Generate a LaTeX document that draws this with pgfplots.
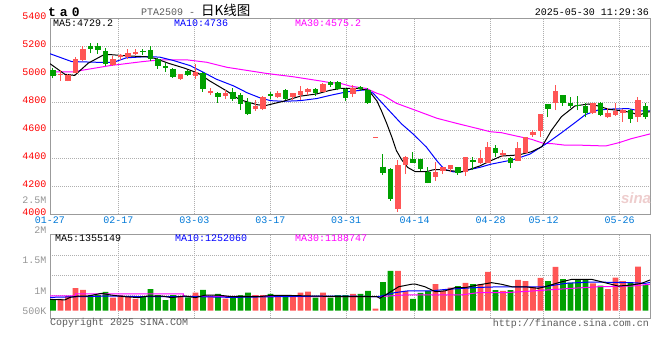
\documentclass[border=0pt]{standalone}
\usepackage{pgfplots}
\pgfplotsset{compat=1.18}
\usepackage{pgfplotstable}
\usepackage{fontspec}
\setmainfont{Liberation Mono}
\newfontfamily\cjk{Noto Sans CJK SC}
\newfontfamily\sans{Liberation Sans}
\definecolor{upred}{RGB}{255,85,85}
\definecolor{dngreen}{RGB}{0,160,0}
\definecolor{pricered}{RGB}{255,0,0}
\definecolor{dateblue}{RGB}{0,120,215}
\definecolor{lblgray}{RGB}{150,150,150}
\definecolor{framegray}{RGB}{155,155,155}
\definecolor{gridgray}{RGB}{175,175,175}
\definecolor{mamag}{RGB}{255,0,255}
\definecolor{mablue}{RGB}{0,0,255}
\definecolor{txtgray}{RGB}{90,90,90}
\definecolor{wmark}{RGB}{238,205,205}

\pgfplotstableread{
i o h l c
1 4994 5030 4955 5001
2 4955 5000 4950 4998
3 5012 5121 5006 5107
4 5100 5205 5092 5181
8 5066 5133 5059 5109
9 5121 5145 5103 5138
10 5121 5178 5110 5154
11 5145 5178 5135 5162
17 4966 5005 4960 5002
19 4990 5071 4969 5019
21 4864 4904 4852 4883
23 4847 4888 4821 4869
27 4752 4816 4740 4774
28 4750 4845 4745 4840
30 4835 4883 4828 4869
32 4835 4869 4817 4864
33 4852 4916 4816 4881
34 4876 4900 4852 4893
36 4876 4936 4871 4931
40 4860 4924 4835 4902
43 4548 4555 4548 4555
46 4040 4388 4019 4352
47 4355 4415 4290 4410
51 4269 4371 4240 4300
52 4312 4336 4288 4336
53 4321 4352 4300 4352
55 4300 4412 4276 4412
57 4364 4459 4360 4400
58 4369 4519 4365 4483
60 4424 4459 4412 4440
62 4381 4519 4378 4471
63 4440 4555 4436 4550
64 4567 4605 4555 4590
65 4597 4720 4555 4716
67 4797 4924 4745 4881
72 4726 4795 4720 4793
74 4693 4757 4690 4726
75 4709 4797 4705 4740
76 4726 4750 4662 4745
78 4697 4836 4662 4817
}\upcandles

\pgfplotstableread{
i o h l c
0 5031 5047 4971 4990
5 5205 5221 5150 5181
6 5205 5224 5147 5174
7 5166 5188 5062 5071
12 5166 5180 5138 5157
13 5174 5202 5097 5107
14 5107 5114 5038 5062
15 5062 5078 5019 5047
16 5038 5042 4976 4983
18 5026 5030 4990 4995
20 5010 5019 4876 4893
22 4869 4872 4797 4840
24 4876 4900 4812 4821
25 4852 4864 4745 4788
26 4805 4828 4709 4716
29 4857 4876 4824 4847
31 4888 4893 4816 4824
35 4895 4905 4847 4869
37 4945 4955 4912 4925
38 4945 4953 4885 4895
39 4893 4900 4807 4830
41 4909 4916 4880 4892
42 4885 4900 4788 4795
44 4340 4431 4281 4293
45 4324 4330 4097 4109
48 4395 4447 4365 4370
49 4395 4397 4312 4322
50 4300 4336 4221 4226
54 4336 4340 4283 4298
56 4388 4412 4317 4376
59 4476 4497 4412 4440
61 4400 4407 4329 4364
66 4788 4790 4693 4750
68 4852 4855 4776 4793
69 4797 4840 4757 4774
70 4781 4845 4745 4774
71 4774 4793 4693 4726
73 4797 4805 4700 4709
77 4745 4750 4655 4678
79 4774 4793 4680 4697
}\dncandles

\pgfplotstableread{
i v
1 0.52
2 0.65
3 1.00
4 0.92
8 0.58
9 0.69
10 0.65
11 0.52
17 0.65
19 0.80
21 0.65
23 0.54
27 0.69
28 0.69
30 0.69
32 0.69
33 0.80
34 0.84
36 0.80
40 0.74
43 0.09
46 1.76
47 0.88
51 1.18
52 0.88
53 1.02
55 1.23
57 1.18
58 1.72
60 0.88
62 1.36
63 1.31
64 1.06
65 1.45
67 1.94
72 1.21
74 0.96
75 1.46
76 1.31
78 1.95
}\upvol

\pgfplotstableread{
i v
0 0.50
5 0.69
6 0.69
7 0.83
12 0.62
13 0.96
14 0.69
15 0.47
16 0.69
18 0.59
20 0.92
22 0.74
24 0.62
25 0.69
26 0.80
29 0.74
31 0.68
35 0.58
37 0.58
38 0.69
39 0.69
41 0.74
42 0.88
44 1.27
45 1.76
48 0.52
49 0.79
50 0.88
54 1.09
56 1.18
59 0.91
61 0.91
66 1.31
68 1.40
69 1.24
70 1.39
71 1.38
73 1.11
77 1.24
79 1.14
}\dnvol

\pgfplotsset{
  kline/.style={
    scale only axis, anchor=south west, width=600pt,
    xmin=-0.387, xmax=79.613,
    xtick={-0.387,8.727,18.854,28.98,39.107,48.221,58.347,65.436,75.562},
    grid=major,
    grid style={gridgray, dash pattern=on 1pt off 1pt, line width=0.8pt},
    major tick length=0pt,
    axis line style={framegray, line width=1pt},
    tick label style={font=\fontsize{10}{12}\selectfont},
  }
}

\begin{document}
\begin{tikzpicture}[font=\fontsize{10}{12}\selectfont]
\useasboundingbox (0,0) rectangle (660pt,360pt);

% ---------- volume panel ----------
\begin{axis}[kline,
  at={(50pt,42pt)}, height=83.3pt,
  ymin=-0.323, ymax=3.363,
  xticklabels={,,,,,,,,},
  ytick={0.681,1.566,2.451}, yticklabels={,,},
  extra y ticks={0,0.885,2.212}, extra y tick labels={500K,1M,1.5M},
  extra y tick style={grid=none},
  yticklabel style={text=lblgray, anchor=east, inner sep=0pt, xshift=-3.5pt},
]
\addplot[ybar, bar width=5.7pt, fill=upred, draw=none] table[x=i,y=v] {\upvol};
\addplot[ybar, bar width=5.7pt, fill=dngreen, draw=none] table[x=i,y=v] {\dnvol};
\addplot[mamag, line width=1pt] coordinates {(-0.39,0.66) (3.0,0.66) (3.0,0.74) (17.4,0.74) (17.4,0.64) (43.5,0.62) (46.95,0.70) (54.5,0.70) (56.7,0.80) (60.3,0.80) (62.5,0.84) (65.6,0.91) (69.2,0.99) (72.7,1.06) (77.2,1.09) (79.61,1.17)};
\addplot[mablue, line width=1pt] coordinates {(-0.39,0.59) (3.4,0.62) (7.8,0.65) (12.3,0.62) (19.4,0.62) (23.8,0.59) (30,0.62) (36.7,0.65) (39,0.65) (43.4,0.62) (45.6,0.80) (47.4,0.88) (50.5,0.88) (52.3,0.94) (56.7,1.03) (59.8,1.06) (65.6,1.06) (68.3,1.21) (71.8,1.27) (77.2,1.24) (78.95,1.21) (79.61,1.25)};
\addplot[black, line width=1pt] coordinates {(-0.39,0.50) (1.6,0.48) (2.3,0.59) (3.4,0.65) (4.7,0.65) (6.5,0.77) (7.8,0.69) (9.6,0.62) (11.4,0.58) (12.7,0.65) (14.5,0.65) (15.8,0.58) (17.6,0.65) (19,0.58) (20.3,0.69) (22.1,0.69) (23.8,0.62) (27.4,0.62) (29.2,0.68) (31,0.68) (34.5,0.65) (38.9,0.62) (43.2,0.62) (43.6,0.55) (44.7,0.77) (46.1,1.06) (47.8,1.17) (48.3,1.18) (49.6,1.06) (51,0.84) (52.3,0.88) (53.6,1.02) (54.95,1.02) (56.7,1.14) (58.5,1.24) (59.8,1.17) (61.2,1.06) (63,1.06) (64.7,0.99) (65.6,1.06) (67.4,1.24) (69.2,1.39) (71.8,1.39) (73.6,1.24) (75.4,1.09) (77.2,1.14) (78.5,1.21) (79.61,1.36)};
\end{axis}

% ---------- price panel ----------
\begin{axis}[kline,
  at={(50pt,145.7pt)}, height=196pt,
  ymin=4000, ymax=5400,
  xticklabels={01-27,02-17,03-03,03-17,03-31,04-14,04-28,05-12,05-26},
  ytick={4000,4200,4400,4600,4800,5000,5200,5400},
  yticklabels={4000,4200,4400,4600,4800,5000,5200,5400},
  extra y ticks={4088}, extra y tick labels={2.5M},
  extra y tick style={grid=none, yticklabel style={text=lblgray}},
  xticklabel style={text=dateblue, anchor=north, inner sep=0pt, yshift=-2.5pt},
  yticklabel style={text=pricered, anchor=east, inner sep=0pt, xshift=-3.5pt, yshift=2pt},
]
\addplot[mamag, line width=1pt] coordinates {(-0.39,5018) (2.7,5018) (4.9,5038) (7.6,5062) (12,5091) (14.3,5103) (17.9,5103) (20.5,5086) (23.2,5050) (28.5,5006) (32.1,4982) (35.6,4953) (36.9,4941) (38.3,4936) (39.6,4916) (41.8,4899) (43.2,4864) (44,4851) (45.8,4793) (48.5,4740) (51.2,4686) (53.8,4650) (56.9,4609) (58.3,4590) (59.8,4583) (61.8,4559) (63.8,4536) (65.4,4507) (66.5,4505) (68.1,4495) (69.6,4495) (73.7,4488) (75.5,4512) (77.1,4540) (79.61,4574)};
\addplot[mablue, line width=1pt] coordinates {(-0.39,5147) (2.5,5091) (5.8,5086) (8.1,5086) (9.8,5118) (12.9,5127) (14.3,5122) (16.1,5098) (18.3,5062) (20.1,5013) (21.8,4965) (24.1,4917) (25.9,4868) (27.6,4832) (29,4812) (30.7,4807) (33,4812) (35.2,4827) (37,4850) (39.2,4875) (41.8,4890) (42.7,4865) (44.5,4760) (46.5,4645) (48.1,4570) (49.8,4480) (51.2,4382) (52.2,4321) (53.4,4303) (54.5,4303) (55.6,4320) (56.9,4335) (58.4,4358) (61.4,4390) (63.6,4430) (65.8,4505) (67.7,4578) (69.5,4650) (71,4712) (72.7,4745) (74.5,4752) (76.7,4755) (78.1,4740) (79.61,4738)};
\addplot[black, line width=1pt] coordinates {(-0.39,5076) (1.6,5000) (2.9,4992) (4.7,5079) (6.8,5140) (7.8,5140) (10,5131) (12.3,5126) (13.6,5114) (15.4,5079) (17.6,5043) (19.4,5007) (20.9,4953) (23.2,4880) (24.9,4819) (27.2,4783) (28.3,4776) (30.7,4807) (33,4844) (35.2,4860) (36.9,4885) (38.3,4899) (40.5,4900) (42.1,4885) (43.2,4810) (43.8,4740) (44.5,4650) (45.2,4550) (45.8,4455) (46.5,4390) (47.3,4335) (48.3,4305) (49.8,4304) (50.7,4318) (51.6,4320) (52.9,4312) (54.5,4304) (55.6,4321) (56.9,4345) (58.1,4376) (59.8,4416) (62.1,4424) (63.8,4447) (65.2,4483) (66.5,4602) (67.8,4697) (69.6,4774) (71.4,4788) (72.7,4774) (74.1,4750) (75.8,4740) (77.2,4726) (78.1,4709) (79.4,4731) (79.61,4731)};
% wicks
\addplot[upred, line width=1pt, quiver={u=0, v=\thisrow{h}-\thisrow{l}}] table[x=i,y=l] {\upcandles};
\addplot[dngreen, line width=1pt, quiver={u=0, v=\thisrow{h}-\thisrow{l}}] table[x=i,y=l] {\dncandles};
% bodies
\addplot[upred, line width=5.7pt, quiver={u=0, v=\thisrow{c}-\thisrow{o}}] table[x=i,y=o] {\upcandles};
\addplot[dngreen, line width=5.7pt, quiver={u=0, v=\thisrow{c}-\thisrow{o}}] table[x=i,y=o] {\dncandles};
\end{axis}

% ---------- texts ----------
\node[anchor=west, inner sep=0pt, font=\fontsize{13}{13}\selectfont\bfseries] at (48pt,348pt) {t\kern4pt a\kern4pt 0};
\node[anchor=west, inner sep=0pt, text=txtgray] at (141pt,350pt) {PTA2509 - {\cjk\color{black}\fontsize{13.5}{13.5}\selectfont 日K线图}};
\node[anchor=east, inner sep=0pt] at (649pt,348pt) {2025-05-30 11:29:36};
\node[anchor=west, inner sep=0pt, text=black] at (53pt,337pt) {MA5:4729.2};
\node[anchor=west, inner sep=0pt, text=mablue] at (174pt,337pt) {MA10:4736};
\node[anchor=west, inner sep=0pt, text=mamag] at (295pt,337pt) {MA30:4575.2};
\node[anchor=west, inner sep=0pt, text=black] at (55pt,122pt) {MA5:1355149};
\node[anchor=west, inner sep=0pt, text=mablue] at (175pt,122pt) {MA10:1252060};
\node[anchor=west, inner sep=0pt, text=mamag] at (295pt,122pt) {MA30:1188747};
\node[anchor=east, inner sep=0pt, text=lblgray] at (46.5pt,130pt) {2M};
\node[anchor=west, inner sep=0pt, text=txtgray] at (50pt,37pt) {Copyright 2025 SINA.COM};
\node[anchor=east, inner sep=0pt, text=txtgray] at (649pt,36pt) {http://finance.sina.com.cn};
\node[inner sep=0pt, text=wmark, font=\sans\bfseries\itshape\fontsize{15}{15}\selectfont] at (636pt,162pt) {sina};
\end{tikzpicture}
\end{document}
